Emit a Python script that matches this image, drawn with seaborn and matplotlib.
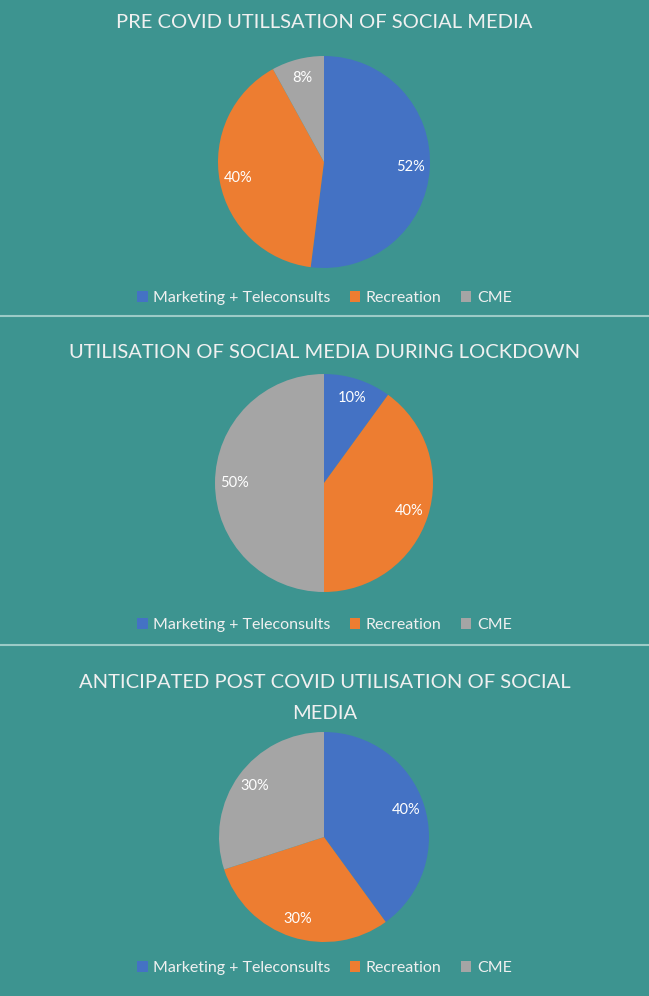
import matplotlib
matplotlib.use("Agg")
import matplotlib.pyplot as plt
import seaborn as sns
from matplotlib.patches import Patch

sns.set_theme(style="white")
plt.rcParams['font.family'] = ['Lato', 'DejaVu Sans']

categories = ["Marketing + Teleconsults", "Recreation", "CME"]
pre_covid = [52, 40, 8]
lockdown = [10, 40, 50]
post_covid = [40, 30, 30]
titles = ["PRE COVID UTILLSATION OF SOCIAL MEDIA",
          "UTILISATION OF SOCIAL MEDIA DURING LOCKDOWN",
          "ANTICIPATED POST COVID UTILISATION OF SOCIAL\nMEDIA"]

colors = ["#4472c4", "#ed7d31", "#a5a5a5"]
BG = "#3d9490"
TXT = "#f0f0f0"

W, H = 649, 996
fig = plt.figure(figsize=(W / 100, H / 100), dpi=100, facecolor=BG)

# (center_y px, radius px, title y px, legend y px)
layout = [
    (162, 106, 22, 298),
    (483, 109, 352, 625),
    (837, 105, 698, 968),
]

for vals, title, (cy, r, ty, ly) in zip([pre_covid, lockdown, post_covid], titles, layout):
    ax = fig.add_axes([(324 - r) / W, 1 - (cy + r) / H, 2 * r / W, 2 * r / H])
    ax.set_facecolor(BG)
    wedges, texts, autotexts = ax.pie(
        vals, colors=colors, startangle=90, counterclock=False,
        autopct=lambda p: f"{p:.0f}%", pctdistance=0.82, radius=1,
        wedgeprops=dict(linewidth=0))
    for t in autotexts:
        t.set_color("white")
        t.set_fontsize(10.5)
    ax.set_xlim(-1, 1)
    ax.set_ylim(-1, 1)
    ax.set_aspect("auto")
    ax.axis("off")
    fig.text(0.5, 1 - ty / H, title, ha="center", va="center", color=TXT,
             fontsize=14.5, fontweight="normal", linespacing=1.95)
    handles = [Patch(facecolor=c, edgecolor="none") for c in colors]
    fig.legend(handles, categories, loc="center", bbox_to_anchor=(0.5, 1 - ly / H),
               ncol=3, frameon=False, fontsize=11.5, labelcolor=TXT,
               handlelength=0.65, handleheight=0.65, handletextpad=0.35,
               columnspacing=1.2)

# separators
for y in [316, 645]:
    fig.add_artist(plt.Line2D([0, 1], [1 - y / H, 1 - y / H], color="#9ccbc7",
                              linewidth=1.5, transform=fig.transFigure))

fig.savefig("out.png", dpi=100, facecolor=BG)
